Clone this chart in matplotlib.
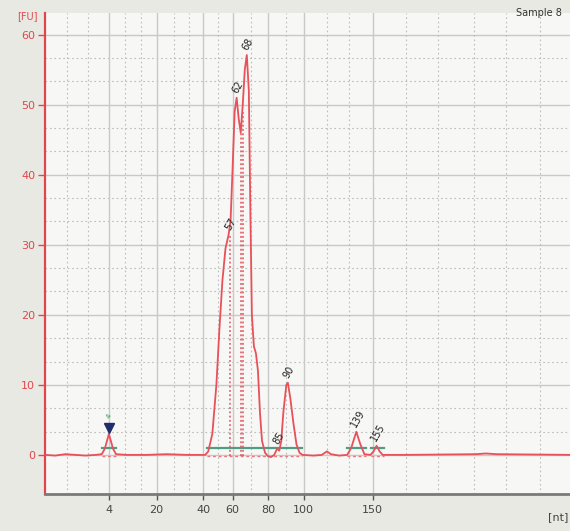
import matplotlib
matplotlib.use("Agg")
import matplotlib.pyplot as plt
import numpy as np

# ---------------- data ----------------
# migration time (s) and fluorescence (FU) of the electropherogram trace
time_s = [20.0, 21.0, 22.0, 23.0, 24.0, 25.0, 25.6, 25.9, 26.3, 26.7, 27.0, 28.0,
          30.0, 32.0, 34.0, 35.8, 36.1, 36.5, 36.9, 37.2, 37.5, 37.8, 38.1, 38.3,
          38.5, 38.7, 38.9, 39.1, 39.3, 39.5, 39.7, 39.9, 40.1, 40.25, 40.4, 40.6,
          40.8, 41.0, 41.2, 41.4, 41.7, 42.0, 42.3, 42.6, 42.9, 43.1, 43.3, 43.5,
          43.8, 43.95, 44.2, 44.5, 44.8, 45.1, 45.4, 46.5, 47.3, 47.8, 48.2, 49.0,
          49.8, 50.2, 50.7, 51.1, 51.5, 52.1, 52.4, 52.7, 53.0, 53.3, 55.5, 62.5,
          63.5, 64.5, 72.0]
fluor_fu = [0.0, -0.1, 0.1, 0.0, -0.1, 0.0, 0.1, 0.9, 3.0, 0.9, 0.1, 0.0,
            0.0, 0.1, 0.0, 0.0, 0.5, 3.0, 10.0, 18.0, 25.0, 29.5, 31.4, 33.5,
            41.0, 49.0, 51.0, 48.0, 46.0, 50.0, 55.0, 57.1, 52.0, 35.0, 20.0, 15.5,
            14.5, 12.0, 6.0, 2.0, 0.3, -0.2, -0.3, 0.0, 0.9, 0.6, 2.0, 6.0,
            10.0, 10.3, 8.0, 4.5, 1.5, 0.3, 0.0, -0.1, 0.0, 0.5, 0.1, -0.1,
            0.0, 1.0, 3.3, 1.5, 0.1, 0.0, 0.5, 1.3, 0.5, 0.0, 0.0, 0.1,
            0.2, 0.1, 0.0]

# size ladder (x-axis tick labels, nt) at their migration times
ladder_nt = ["4", "20", "40", "60", "80", "100", "150"]
ladder_time = [26.3, 31.0, 35.6, 38.5, 42.0, 45.5, 52.3]

# called peaks: size label, migration time, height
peak_labels = ["57", "62", "68", "85", "90", "139", "155"]
peak_time = [38.2, 38.9, 39.9, 42.9, 43.95, 50.7, 52.7]
peak_height = [31.4, 51.0, 57.1, 0.9, 10.3, 3.3, 1.3]

# marker peak
marker_time = 26.3
marker_height = 3.0

# integration baseline segments (start, end) in s
seg_start = [25.6, 36.0, 49.8, 52.1]
seg_end = [27.0, 45.3, 51.7, 53.4]

# peak-boundary drop lines: time, height
drop_time = [38.2, 39.3, 39.5]
drop_height = [31.4, 46.0, 49.0]

y_ticks = [0, 10, 20, 30, 40, 50, 60]
minor_x = [22.2, 24.2, 27.9, 29.5, 32.7, 34.2, 37.1, 40.3, 43.8, 47.8, 50.0,
           55.6, 58.8, 62.3, 65.5, 68.8]

# ---------------- figure ----------------
RED = "#e0474c"
fig = plt.figure(figsize=(5.70, 5.31), dpi=100, facecolor="#e9e9e3")
ax = fig.add_axes([0.079, 0.0695, 0.925, 0.906])
ax.set_facecolor("#f7f7f5")

ax.set_xlim(20.0, 72.0)
ax.set_ylim(-5.6, 63.1)

# grid
for v in y_ticks:
    ax.axhline(v, color="#c9c9c9", lw=1.0, zorder=0)
for v in np.arange(0, 61, 10):
    for f in (10 / 3, 20 / 3):
        if v + f < 63:
            ax.axhline(v + f, color="#bdbdbd", lw=0.8, ls=(0, (1.5, 2.5)), zorder=0)
for t in ladder_time:
    ax.axvline(t, color="#c9c9c9", lw=1.0, zorder=0)
for t in minor_x:
    ax.axvline(t, color="#bdbdbd", lw=0.8, ls=(0, (1.5, 2.5)), zorder=0)

# baselines
for s, e in zip(seg_start, seg_end):
    ax.plot([s, e], [1.0, 1.0], color="#4e9e84", lw=1.6, zorder=2)
    ax.plot([s, e], [-0.15, -0.15], color="#e8787c", lw=1.0, ls=(0, (2, 2)), zorder=2)

# drop lines
for t, h in zip(drop_time, drop_height):
    ax.plot([t, t], [-0.15, h], color="#e0505a", lw=1.1, ls=(0, (1.2, 1.6)), zorder=2)

# trace
ax.plot(time_s, fluor_fu, color="#e8505a", lw=1.3, zorder=3)

# marker
ax.plot([marker_time], [marker_height + 0.9], marker="v", color="#1f2d6e",
        markersize=7, zorder=4)
ax.annotate("4", (marker_time, marker_height + 1.7), xytext=(0, 2),
            textcoords="offset points", ha="center", va="bottom", fontsize=5,
            color="#3a9a5a", rotation=60)

# peak labels
for lab, t, h in zip(peak_labels, peak_time, peak_height):
    ax.annotate(lab, (t, h), xytext=(1, 2), textcoords="offset points",
                ha="center", va="bottom", fontsize=7, color="#222222",
                rotation=60, zorder=5)

# axes styling
for s in ("top", "right"):
    ax.spines[s].set_visible(False)
ax.spines["left"].set_color(RED)
ax.spines["left"].set_linewidth(1.6)
ax.spines["bottom"].set_color("#7a7a7a")
ax.spines["bottom"].set_linewidth(2.0)

ax.set_yticks(y_ticks)
ax.set_yticklabels([str(v) for v in y_ticks])
ax.tick_params(axis="y", colors=RED, labelcolor=RED, length=5, width=1.0,
               labelsize=8, pad=2)
ax.set_xticks(ladder_time)
ax.set_xticklabels(ladder_nt)
ax.tick_params(axis="x", colors="#555555", labelcolor="#444444", length=4,
               width=1.0, labelsize=8, pad=4)

fig.text(0.066, 0.969, "[FU]", color=RED, fontsize=7, ha="right", va="center")
fig.text(0.997, 0.026, "[nt]", color="#444444", fontsize=8, ha="right", va="center")
fig.text(0.985, 0.976, "Sample 8", color="#333333", fontsize=7, ha="right", va="center")

fig.savefig("out.png", dpi=100, facecolor=fig.get_facecolor())
